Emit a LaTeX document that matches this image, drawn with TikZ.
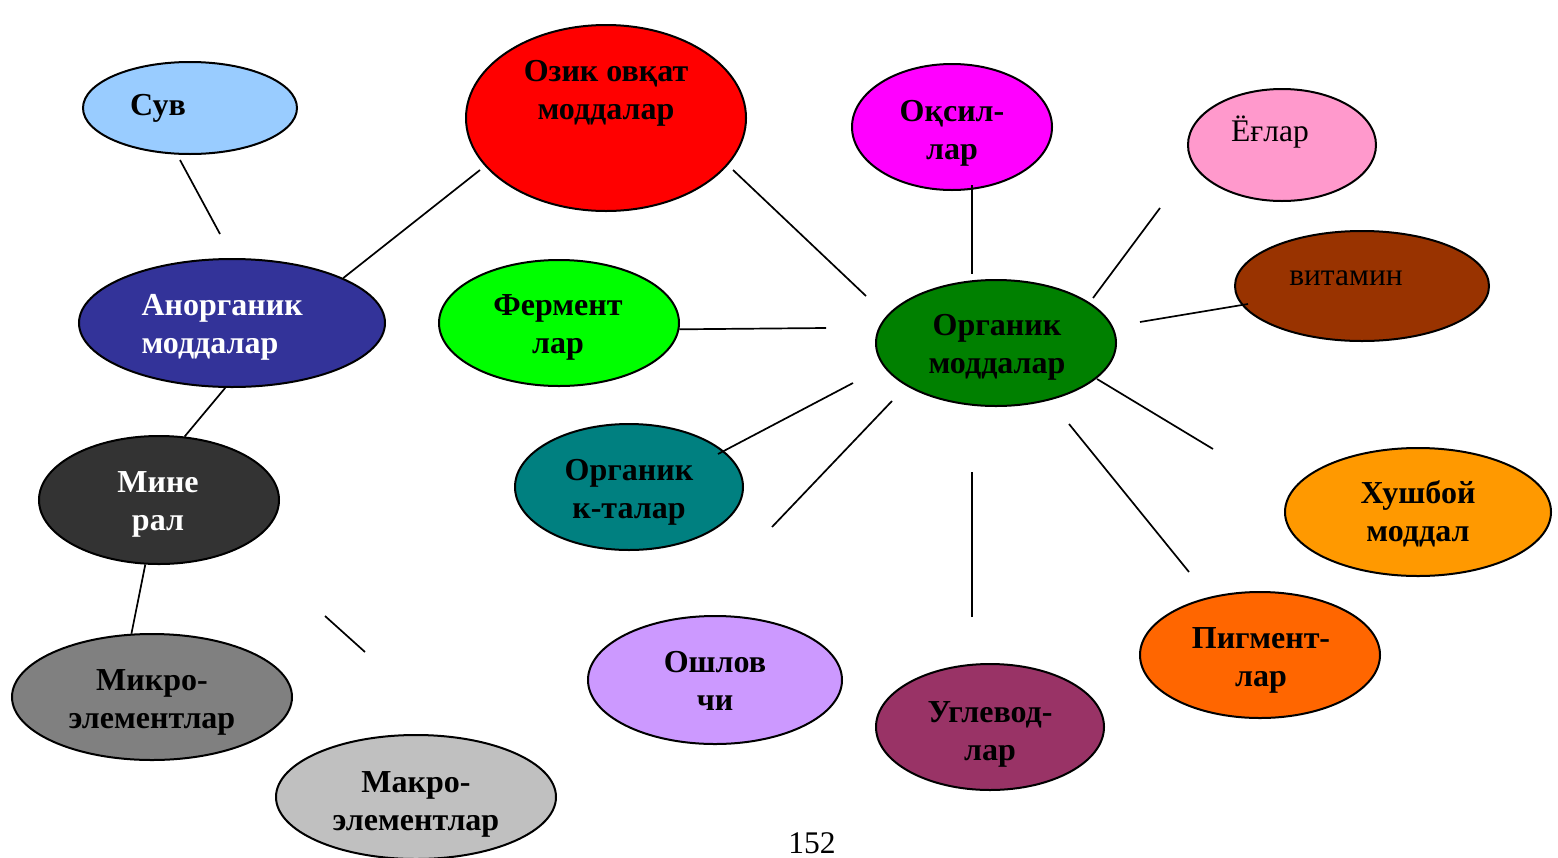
\documentclass[tikz,border=0pt]{standalone}
\usepackage{fontspec}
\setmainfont{Liberation Serif}
\usepackage{xcolor}
\usetikzlibrary{shapes.geometric}

\definecolor{suvblue}{HTML}{99CCFF}
\definecolor{ozikred}{HTML}{FF0000}
\definecolor{oqsilpink}{HTML}{FF00FF}
\definecolor{eglarpink}{HTML}{FF99CC}
\definecolor{vitbrown}{HTML}{993300}
\definecolor{orggreen}{HTML}{008000}
\definecolor{anorgblue}{HTML}{333399}
\definecolor{fermgreen}{HTML}{00FF00}
\definecolor{kisteal}{HTML}{008080}
\definecolor{mingray}{HTML}{333333}
\definecolor{xushorange}{HTML}{FF9900}
\definecolor{pigorange}{HTML}{FF6600}
\definecolor{uglplum}{HTML}{993366}
\definecolor{oshlilac}{HTML}{CC99FF}
\definecolor{mikrogray}{HTML}{808080}
\definecolor{makrogray}{HTML}{C0C0C0}

\tikzset{
  bubble/.style={draw, ellipse, line width=2pt, inner sep=0pt},
  btxt/.style={font=\bfseries\fontsize{32}{38}\selectfont, align=center, anchor=base},
  ptxt/.style={font=\fontsize{31.5}{38}\selectfont, anchor=base},
  link/.style={line width=1.7pt}
}

\begin{document}
\begin{tikzpicture}[x=1pt, y=-1pt]
        \useasboundingbox (0,0) rectangle (1558,857);

        % the bubbles
        \node[bubble, fill=suvblue, minimum width=214pt, minimum height=92pt] (suv) at (190,108) {};
        \node[bubble, fill=ozikred, minimum width=280pt, minimum height=186pt] (ozik) at (606,118) {};
        \node[bubble, fill=oqsilpink, minimum width=200pt, minimum height=126pt] (oqsil) at (952,127) {};
        \node[bubble, fill=eglarpink, minimum width=188pt, minimum height=112pt] (eglar) at (1282,145) {};
        \node[bubble, fill=vitbrown, minimum width=254pt, minimum height=110pt] (vitamin) at (1362,286) {};
        \node[bubble, fill=orggreen, minimum width=240pt, minimum height=126pt] (organik) at (996,343) {};
        \node[bubble, fill=anorgblue, minimum width=306pt, minimum height=128pt] (anorg) at (232,323) {};
        \node[bubble, fill=fermgreen, minimum width=240pt, minimum height=126pt] (ferment) at (559,323) {};
        \node[bubble, fill=kisteal, minimum width=228pt, minimum height=126pt] (kislota) at (629,487) {};
        \node[bubble, fill=mingray, minimum width=240pt, minimum height=128pt] (mineral) at (159,500) {};
        \node[bubble, fill=xushorange, minimum width=266pt, minimum height=128pt] (xushboy) at (1418,512) {};
        \node[bubble, fill=pigorange, minimum width=240pt, minimum height=126pt] (pigment) at (1260,655) {};
        \node[bubble, fill=uglplum, minimum width=228pt, minimum height=126pt] (uglevod) at (990,727) {};
        \node[bubble, fill=oshlilac, minimum width=254pt, minimum height=128pt] (oshlov) at (715,680) {};
        \node[bubble, fill=mikrogray, minimum width=280pt, minimum height=126pt] (mikro) at (152,697) {};
        \node[bubble, fill=makrogray, minimum width=280pt, minimum height=124pt] (makro) at (416,797) {};

        % the texts (base = baseline of the last line)
        \node[btxt] (suv-t) at (158,115) {Сув};
        \node[btxt] (ozik-t) at (606,119) {Озик овқат\\моддалар};
        \node[btxt] (oqsil-t) at (952,159) {Оқсил-\\лар};
        \node[ptxt] (eglar-t) at (1270,141) {Ёғлар};
        \node[ptxt] (vitamin-t) at (1346,285) {витамин};
        \node[btxt] (organik-t) at (997,373) {Органик\\моддалар};
        \node[btxt, align=left, anchor=base west, text=white] (anorg-t) at (138,353) {Анорганик\\моддалар};
        \node[btxt] (ferment-t) at (558,353) {Фермент\\лар};
        \node[btxt] (kislota-t) at (629,518) {Органик\\к-талар};
        \node[btxt, text=white] (mineral-t) at (158,530) {Мине\\рал};
        \node[btxt] (xushboy-t) at (1418,541) {Хушбой\\моддал};
        \node[btxt] (pigment-t) at (1261,686) {Пигмент-\\лар};
        \node[btxt] (uglevod-t) at (990,760) {Углевод-\\лар};
        \node[btxt] (oshlov-t) at (715,710) {Ошлов\\чи};
        \node[btxt] (mikro-t) at (152,728) {Микро-\\элементлар};
        \node[btxt] (makro-t) at (416,830) {Макро-\\элементлар};
        \node[ptxt] (page) at (812,853) {152};

        % free ends of the links
        \coordinate (suv-a) at (180,160); \coordinate (suv-b) at (220,234);
        \coordinate (ozik-a) at (480,170);
        \coordinate (ozik-b) at (733,170); \coordinate (ozik-c) at (866,296);
        \coordinate (oqsil-a) at (972,185); \coordinate (oqsil-b) at (972,274);
        \coordinate (eglar-a) at (1160,208); \coordinate (eglar-b) at (1093,298);
        \coordinate (vit-a) at (1248,304); \coordinate (vit-b) at (1140,322);
        \coordinate (ferm-a) at (826,328);
        \coordinate (kis-a) at (718,454); \coordinate (kis-b) at (853,383);
        \coordinate (osh-a) at (772,527); \coordinate (osh-b) at (892,401);
        \coordinate (ugl-a) at (972,617); \coordinate (ugl-b) at (972,472);
        \coordinate (pig-a) at (1189,572); \coordinate (pig-b) at (1069,424);
        \coordinate (xush-a) at (1213,449); \coordinate (xush-b) at (1097,379);
        \coordinate (makro-a) at (365,652); \coordinate (makro-b) at (325,616);

        % the links
        \draw[link] (suv-a) -- (suv-b);
        \draw[link] (anorg.22) -- (ozik-a);
        \draw[link] (ozik-b) -- (ozik-c);
        \draw[link] (oqsil-a) -- (oqsil-b);
        \draw[link] (eglar-a) -- (eglar-b);
        \draw[link] (vit-a) -- (vit-b);
        \draw[link] (ferment.-3) -- (ferm-a);
        \draw[link] (kis-a) -- (kis-b);
        \draw[link] (osh-a) -- (osh-b);
        \draw[link] (ugl-a) -- (ugl-b);
        \draw[link] (pig-a) -- (pig-b);
        \draw[link] (xush-a) -- (xush-b);
        \draw[link] (anorg.-96) -- (mineral.68);
        \draw[link] (mineral.-102) -- (mikro.108);
        \draw[link] (makro-a) -- (makro-b);
\end{tikzpicture}
\end{document}
